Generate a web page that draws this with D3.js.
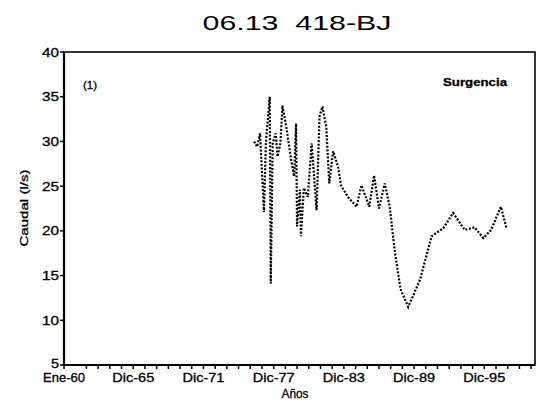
<!DOCTYPE html>
<html>
<head>
<meta charset="utf-8">
<script src="https://cdn.jsdelivr.net/npm/d3@7"></script>
<style>
body { margin:0; background:#fff; }
svg text { font-family: "Liberation Sans", Arial, sans-serif; fill:#000; white-space: pre; }
svg text.scan { stroke:#000; stroke-width:0.3; }
</style>
</head>
<body>
<svg width="543" height="408"></svg>
<script>
// caudal data (month, l/s)
var months = ["1976-04","1976-07","1976-10","1977-02","1977-04","1977-08","1977-09","1977-11",
  "1978-02","1978-04","1978-07","1978-09","1979-01","1979-06","1979-09","1979-11","1979-12",
  "1980-03","1980-04","1980-07","1980-11","1981-03","1981-08","1981-11","1982-02","1982-06",
  "1982-09","1983-01","1983-06","1983-09","1984-04","1985-01","1985-06","1986-02","1986-07",
  "1986-12","1987-06","1987-11","1988-04","1988-10","1989-06","1990-06","1991-06","1992-06",
  "1993-04","1994-04","1995-02","1995-11","1996-07","1997-05","1997-11"];
var caudal = [30.0,29.4,30.9,22.1,29.8,35.0,14.1,29.8,
  30.9,28.3,29.8,34.0,31.6,27.9,26.1,32.0,20.5,
  24.6,19.4,24.8,23.8,29.8,22.3,32.8,33.9,31.6,
  25.3,28.9,27.2,25.1,23.8,22.7,25.1,22.7,26.2,
  22.5,25.3,22.7,17.9,13.5,11.5,14.5,19.4,20.3,
  22.0,20.1,20.4,19.2,20.1,22.7,20.2];
var yTicks = [5,10,15,20,25,30,35,40];
var xTickDates = ["1960-01","1965-12","1971-12","1977-12","1983-12","1989-12","1995-12"];
var xTickLabels = ["Ene-60","Dic-65","Dic-71","Dic-77","Dic-83","Dic-89","Dic-95"];

var parseMonth = d3.timeParse("%Y-%m");
var data = months.map(function(m,i){ return {date: parseMonth(m), value: caudal[i]}; });

var svg = d3.select("svg");
var plot = {left:64, right:535, top:52, bottom:365};

var x = d3.scaleTime()
  .domain([new Date(1960,0,1), new Date(2000,3,1)])
  .range([plot.left,plot.right]);
var y = d3.scaleLinear().domain([5,40]).range([plot.bottom,plot.top]);

// stretched text helper (the scan font is wide)
var stretchText = function(g, str, px, py, width, size, anchor, weight)
{
  var t = g.append("text")
    .attr("class","scan")
    .attr("x", px).attr("y", py)
    .attr("font-size", size)
    .attr("text-anchor", anchor || "middle")
    .attr("textLength", width)
    .attr("lengthAdjust", "spacingAndGlyphs")
    .text(str);
  if(weight) t.attr("font-weight", weight);
  return t;
}

// title
stretchText(svg, "06.13  418-BJ", 297, 30, 189, 21).attr("class", null);

// frame
svg.append("rect")
  .attr("x",plot.left).attr("y",plot.top)
  .attr("width",plot.right-plot.left).attr("height",plot.bottom-plot.top)
  .attr("fill","none").attr("stroke","#000").attr("stroke-width",1.6);
svg.append("line").attr("x1",plot.left).attr("x2",plot.left).attr("y1",plot.top).attr("y2",plot.bottom)
  .attr("stroke","#000").attr("stroke-width",2.2);
svg.append("line").attr("x1",plot.left).attr("x2",plot.right).attr("y1",plot.bottom).attr("y2",plot.bottom)
  .attr("stroke","#000").attr("stroke-width",2.2);

// y axis ticks + labels
var yAxis = svg.append("g");
yTicks.forEach(function(v)
{
  yAxis.append("line").attr("x1",plot.left-4).attr("x2",plot.left).attr("y1",y(v)).attr("y2",y(v))
    .attr("stroke","#000").attr("stroke-width",1.5);
  stretchText(yAxis, String(v), plot.left-5, y(v)+(v == 5 ? 3 : 4.5), v < 10 ? 8 : 17, 12, "end");
});

// x axis: yearly minor ticks
var years = d3.range(1960, 2000);
years.forEach(function(yr)
{
  var d = yr == 1960 ? new Date(1960,0,1) : new Date(yr,11,1);
  svg.append("line").attr("x1",x(d)).attr("x2",x(d)).attr("y1",plot.bottom).attr("y2",plot.bottom+4)
    .attr("stroke","#000").attr("stroke-width",1.5);
});
xTickDates.forEach(function(m,i)
{
  stretchText(svg, xTickLabels[i], x(parseMonth(m)), 382, 42, 12, "middle");
});

// axis titles
stretchText(svg, "Años", 295, 398, 27, 12, "middle");
var yl = svg.append("g").attr("transform","translate(24,208) rotate(-90)");
stretchText(yl, "Caudal (l/s)", 0, 4, 77, 11, "middle");

// annotations
stretchText(svg, "(1)", 83, 89, 14, 11, "start");
stretchText(svg, "Surgencia", 443, 86, 64, 11, "start", "bold");

// dotted series line
var line = d3.line()
  .x(function(d){ return x(d.date); })
  .y(function(d){ return y(d.value); });
svg.append("path")
  .datum(data)
  .attr("d", line)
  .attr("fill","none")
  .attr("stroke","#000")
  .attr("stroke-width",2.2)
  .attr("stroke-dasharray","2,1.6");
</script>
</body>
</html>
